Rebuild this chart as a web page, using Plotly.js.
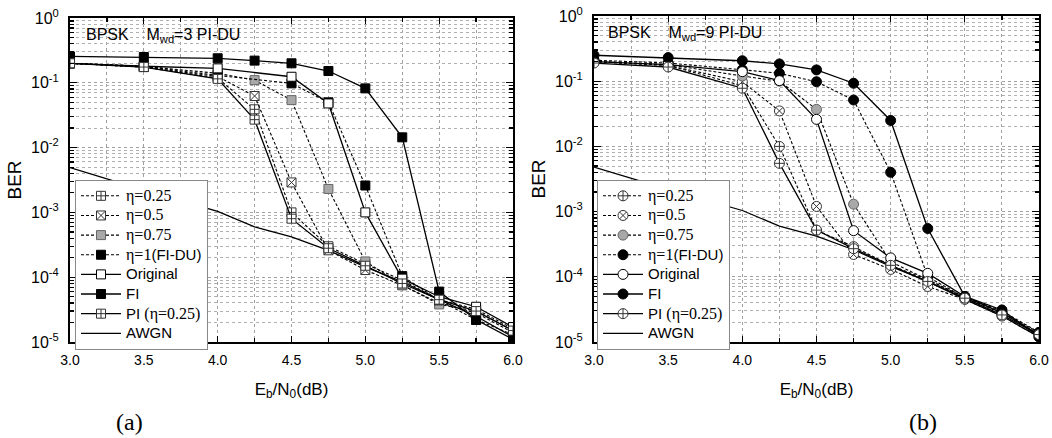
<!DOCTYPE html>
<html><head><meta charset="utf-8">
<script src="https://cdn.plot.ly/plotly-3.0.1.min.js"></script>
<style>html,body{margin:0;padding:0;background:#fff}#chart{width:1052px;height:438px}</style>
</head><body><div id="chart"></div>
<script>
// Eb/N0 grid (dB)
const ebn0 = [3.0, 3.5, 4.0, 4.25, 4.5, 4.75, 5.0, 5.25, 5.5, 5.75, 6.0];

// Panel (a): BPSK, Mwd = 3, PI-DU
const a_eta025 = [0.20, 0.175, 0.118, 0.039, 1.0e-3, 3.0e-4, 1.6e-4, 9.0e-5, 4.5e-5, 3.2e-5, 1.6e-5];
const a_eta05  = [0.20, 0.175, 0.125, 0.0625, 2.9e-3, 2.6e-4, 1.29e-4, 7.5e-5, 4.0e-5, 2.8e-5, 1.4e-5];
const a_eta075 = [0.20, 0.18, 0.14, 0.11, 0.054, 2.3e-3, 1.75e-4, 7.6e-5, 3.8e-5, 3.0e-5, 1.5e-5];
const a_eta1   = [0.20, 0.18, 0.13, null, 0.098, 0.05, 2.6e-3, 1.04e-4, 4.4e-5, 2.2e-5, 1.3e-5];
const a_orig   = [0.20, 0.18, 0.167, null, 0.124, 0.048, 1.0e-3, 9.5e-5, 5.0e-5, 3.5e-5, 1.7e-5];
const a_fi     = [0.255, 0.25, 0.239, 0.22, 0.20, 0.152, 0.082, 0.0144, 6.0e-5, 2.2e-5, 1.1e-5];
const a_pi     = [0.20, 0.175, 0.115, 0.027, 8.0e-4, 2.8e-4, 1.5e-4, 8.0e-5, 4.5e-5, 3.0e-5, 1.5e-5];
const a_awgn   = [4.9e-3, 2.2e-3, 1.04e-3, 6.0e-4, 4.2e-4, 2.6e-4, 1.44e-4, 8.5e-5, 4.5e-5, 2.5e-5, 1.2e-5];

// Panel (b): BPSK, Mwd = 9, PI-DU
const b_eta025 = [0.20, 0.175, 0.085, 0.01, 5.2e-4, 2.9e-4, 1.5e-4, 9.0e-5, 4.8e-5, 2.8e-5, 1.4e-5];
const b_eta05  = [0.20, 0.175, 0.098, 0.035, 1.2e-3, 2.2e-4, 1.3e-4, 7.1e-5, 4.5e-5, 2.5e-5, 1.2e-5];
const b_eta075 = [0.20, 0.18, 0.12, 0.10, 0.037, 1.3e-3, 1.7e-4, 9.0e-5, 4.8e-5, 2.8e-5, 1.3e-5];
const b_eta1   = [0.21, 0.19, 0.15, 0.132, 0.098, 0.0515, 4.0e-3, 1.0e-4, 4.8e-5, 3.0e-5, 1.4e-5];
const b_orig   = [0.20, 0.18, 0.14, 0.102, 0.026, 5.1e-4, 1.95e-4, 1.13e-4, 5.0e-5, 2.8e-5, 1.3e-5];
const b_fi     = [0.25, 0.23, 0.206, 0.184, 0.149, 0.093, 0.025, 5.5e-4, 5.0e-5, 3.1e-5, 1.2e-5];
const b_pi     = [0.19, 0.165, 0.078, 5.5e-3, 5.2e-4, 2.7e-4, 1.5e-4, 8.5e-5, 4.7e-5, 2.6e-5, 1.3e-5];
const b_awgn   = [4.8e-3, 2.2e-3, 1.04e-3, 6.0e-4, 4.2e-4, 2.6e-4, 1.44e-4, 8.5e-5, 4.5e-5, 2.5e-5, 1.2e-5];

// Tick labels
const yTickVals = [1e-5, 1e-4, 1e-3, 1e-2, 1e-1, 1];
const yTickText = ['10<sup>-5</sup>', '10<sup>-4</sup>', '10<sup>-3</sup>', '10<sup>-2</sup>', '10<sup>-1</sup>', '10<sup>0</sup>'];
const xTickVals = [3.0, 3.5, 4.0, 4.5, 5.0, 5.5, 6.0];
const xTickText = ['3.0', '3.5', '4.0', '4.5', '5.0', '5.5', '6.0'];

// Legend names
const SERIF = "font-family:'Liberation Serif','Times New Roman',serif;font-size:16px";
const SANS = "font-size:15px";
const legendNames = [
  `<span style="${SERIF}">η=0.25</span>`,
  `<span style="${SERIF}">η=0.5</span>`,
  `<span style="${SERIF}">η=0.75</span>`,
  `<span style="${SERIF}">η=1</span><span style="${SANS}">(FI-DU)</span>`,
  `<span style="${SANS}">Original</span>`,
  `<span style="${SANS}">FI</span>`,
  `<span style="${SANS}">PI </span><span style="${SERIF}">(η=0.25)</span>`,
  `<span style="${SANS}">AWGN</span>`
];
const panelTitles = ['BPSK\u00a0\u00a0\u00a0\u00a0M<sub>wd</sub>=3 PI-DU', 'BPSK\u00a0\u00a0\u00a0\u00a0M<sub>wd</sub>=9 PI-DU'];
const panelLabels = ['(a)', '(b)'];

const panels = [
  {series: [a_eta025, a_eta05, a_eta075, a_eta1, a_orig, a_fi, a_pi, a_awgn], shape: 'square', xa: 'x', ya: 'y', lg: 'legend'},
  {series: [b_eta025, b_eta05, b_eta075, b_eta1, b_orig, b_fi, b_pi, b_awgn], shape: 'circle', xa: 'x2', ya: 'y2', lg: 'legend2'}
];

function styleFor(i, shape) {
  const sq = shape === 'square';
  const sz = sq ? 9 : 10;
  const dashed = {color: '#000', width: 1.1, dash: '3px,2px'};
  const solid = {color: '#000', width: 1.3};
  switch (i) {
    case 0: return {line: dashed, marker: {symbol: shape + '-cross', size: sz, color: '#fff', line: {color: '#333', width: 1}}};
    case 1: return {line: dashed, marker: {symbol: shape + '-x', size: sz, color: '#fff', line: {color: '#333', width: 1}}};
    case 2: return {line: dashed, marker: {symbol: shape, size: sz, color: '#a8a8a8', line: {color: '#666', width: 1}}};
    case 3: return {line: dashed, marker: {symbol: shape, size: sz, color: '#000', line: {color: '#000', width: 1}}};
    case 4: return {line: solid, marker: {symbol: shape, size: sz, color: '#fff', line: {color: '#000', width: 1}}};
    case 5: return {line: solid, marker: {symbol: shape, size: sz, color: '#000', line: {color: '#000', width: 1}}};
    case 6: return {line: solid, marker: {symbol: shape + '-cross', size: sz, color: '#fff', line: {color: '#333', width: 1}}};
    default: return {line: {color: '#000', width: 1.3}, marker: {size: 1}};
  }
}

const traces = [];
panels.forEach(p => {
  const order = [7, 0, 1, 2, 3, 4, 5, 6];
  order.forEach(i => {
    const st = styleFor(i, p.shape);
    traces.push({
      type: 'scatter',
      mode: i === 7 ? 'lines' : 'lines+markers',
      x: ebn0, y: p.series[i],
      name: legendNames[i],
      connectgaps: true,
      xaxis: p.xa, yaxis: p.ya, legend: p.lg,
      legendrank: i + 1,
      line: st.line, marker: st.marker,
      showlegend: true
    });
  });
});

const FONT = "'Liberation Sans', Arial, sans-serif";
function xAxis(domain, anchor) {
  return {
    domain: domain, anchor: anchor, range: [3, 6], type: 'linear',
    tickmode: 'array', tickvals: xTickVals, ticktext: xTickText,
    ticks: 'inside', ticklen: 6, tickwidth: 1.2, tickcolor: '#000',
    ticklabelstandoff: 4,
    tickfont: {family: FONT, size: 14, color: '#000'},
    showline: true, linecolor: '#000', linewidth: 2, mirror: 'allticks',
    showgrid: true, gridcolor: '#a0a0a0', griddash: 'dot', gridwidth: 1,
    minor: {dtick: 0.25, tick0: 3, ticks: 'inside', ticklen: 4, tickcolor: '#000', showgrid: true, gridcolor: '#a0a0a0', griddash: 'dot', gridwidth: 1},
    zeroline: false,
    title: {text: 'E<sub>b</sub>/N<sub>0</sub>(dB)', font: {family: FONT, size: 17, color: '#000'}, standoff: 16}
  };
}
function yAxis(domain, anchor) {
  return {
    domain: domain, anchor: anchor, type: 'log', range: [-5, 0],
    tickmode: 'array', tickvals: yTickVals, ticktext: yTickText,
    ticks: 'inside', ticklen: 7, tickwidth: 1.2, tickcolor: '#000',
    ticklabelstandoff: 6,
    tickfont: {family: FONT, size: 16, color: '#000'},
    showline: true, linecolor: '#000', linewidth: 2, mirror: 'allticks',
    showgrid: true, gridcolor: '#a0a0a0', griddash: 'dot', gridwidth: 1,
    minor: {dtick: 'D1', ticks: 'inside', ticklen: 4, tickcolor: '#000', showgrid: true, gridcolor: '#b0b0b0', griddash: 'dot', gridwidth: 1},
    zeroline: false,
    title: {text: 'BER', font: {family: FONT, size: 19, color: '#000'}, standoff: 4}
  };
}

function legendBox(xpx) {
  return {
    x: xpx / 1052, y: 1 - 180 / 438, xanchor: 'left', yanchor: 'top',
    bgcolor: '#fff', bordercolor: '#888', borderwidth: 1,
    font: {family: FONT, size: 12.8, color: '#000'},
    itemwidth: 40, tracegroupgap: 0, traceorder: 'normal'
  };
}

const W = 1052, H = 438;
const layout = {
  width: W, height: H,
  margin: {l: 0, r: 0, t: 0, b: 0},
  paper_bgcolor: '#fff', plot_bgcolor: '#fff',
  font: {family: FONT, color: '#000'},
  xaxis: xAxis([70 / W, 513 / W], 'y'),
  yaxis: yAxis([1 - 342 / H, 1 - 18 / H], 'x'),
  xaxis2: xAxis([594 / W, 1039 / W], 'y2'),
  yaxis2: yAxis([1 - 342 / H, 1 - 16 / H], 'x2'),
  legend: legendBox(75),
  legend2: legendBox(597),
  annotations: [
    {xref: 'paper', yref: 'paper', x: 84 / W, y: 1 - 24 / H, xanchor: 'left', yanchor: 'top', showarrow: false,
     text: panelTitles[0], font: {family: FONT, size: 16, color: '#000'}},
    {xref: 'paper', yref: 'paper', x: 606 / W, y: 1 - 22 / H, xanchor: 'left', yanchor: 'top', showarrow: false,
     text: panelTitles[1], font: {family: FONT, size: 16, color: '#000'}},
    {xref: 'paper', yref: 'paper', x: 129 / W, y: 1 / H, xanchor: 'center', yanchor: 'bottom', showarrow: false,
     text: panelLabels[0], font: {family: "'Liberation Serif','Times New Roman',serif", size: 24, color: '#000'}},
    {xref: 'paper', yref: 'paper', x: 923 / W, y: 1 / H, xanchor: 'center', yanchor: 'bottom', showarrow: false,
     text: panelLabels[1], font: {family: "'Liberation Serif','Times New Roman',serif", size: 24, color: '#000'}}
  ]
};

Plotly.newPlot('chart', traces, layout, {staticPlot: true, displayModeBar: false});
</script>
</body></html>
